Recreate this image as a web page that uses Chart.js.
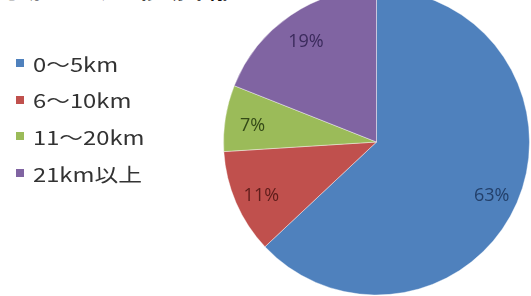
<!DOCTYPE html>
<html>
<head>
<meta charset="utf-8">
<script src="https://cdn.jsdelivr.net/npm/chart.js@4/dist/chart.umd.min.js"></script>
<style>
  html, body { margin: 0; padding: 0; background: #fff; overflow: hidden; }
  body { width: 531px; height: 296px; position: relative; }
  #title {
    position: absolute; left: -6px; top: -24px;
    font-family: "Noto Sans CJK JP", sans-serif; font-weight: bold;
    font-size: 24px; line-height: 24px; color: #111; white-space: nowrap;
  }
  #chart { position: absolute; left: 0; top: -12px; }
  #legend {
    position: absolute; left: 16px; top: 50px; margin: 0; padding: 0; list-style: none;
    font-family: "Noto Sans CJK JP", sans-serif; font-size: 19px; font-weight: 400;
    color: #333;
  }
  #legend li { display: flex; align-items: center; height: 26px; margin-bottom: 10.7px; }
  #legend .box { width: 8px; height: 8px; margin-right: 9px; flex: none; }
  #legend .txt { display: inline-block; transform: scaleX(1.25); transform-origin: left center; white-space: nowrap; }
  .pct {
    position: absolute; transform: translate(-50%, -50%); white-space: nowrap;
    font-family: "Open Sans", sans-serif; font-style: normal; font-size: 18px; line-height: 20px;
  }
</style>
</head>
<body>
<div id="title">通勤における移動距離</div>
<canvas id="chart" width="531" height="308"></canvas>
<ul id="legend"></ul>
<script>
// chart data
const labels = ['0～5km', '6～10km', '11～20km', '21km以上'];
const percents = [63, 11, 7, 19];
const sliceColors = ['#4f81bd', '#c0504d', '#9bbb59', '#8064a2'];
const labelColors = ['#23406b', '#5e1c1a', '#344a17', '#3a2a5c'];

// legend in html
const legendEl = document.getElementById('legend');
labels.forEach((name, i) => {
    const li = document.createElement('li');
    const box = document.createElement('span');
    box.className = 'box';
    box.style.background = sliceColors[i];
    const txt = document.createElement('span');
    txt.className = 'txt';
    txt.textContent = name;
    li.appendChild(box);
    li.appendChild(txt);
    legendEl.appendChild(li);
});

const canvas = document.getElementById('chart');
const chart = new Chart(canvas, {
    type: 'pie',
    data: {
        labels: labels,
        datasets: [{
            data: percents,
            backgroundColor: sliceColors,
            borderColor: 'rgba(255,255,255,0.4)',
            borderWidth: 1
        }]
    },
    options: {
        responsive: false,
        devicePixelRatio: 1,
        animation: false,
        layout: { padding: { left: 223, right: 1, top: 0, bottom: 0 } },
        plugins: {
            legend: { display: false },
            tooltip: { enabled: false }
        }
    }
});

// percent labels placed inside each slice, near the rim, from the arc geometry
const offsetY = canvas.offsetTop;
chart.getDatasetMeta(0).data.forEach((arc, i) => {
    const mid = (arc.startAngle + arc.endAngle) / 2;
    const r = arc.outerRadius * 0.82;
    const el = document.createElement('div');
    el.className = 'pct';
    el.style.color = labelColors[i];
    el.style.left = (arc.x + Math.cos(mid) * r) + 'px';
    el.style.top = (arc.y + Math.sin(mid) * r + 2 + offsetY) + 'px';
    el.textContent = percents[i] + '%';
    document.body.appendChild(el);
});
</script>
</body>
</html>
